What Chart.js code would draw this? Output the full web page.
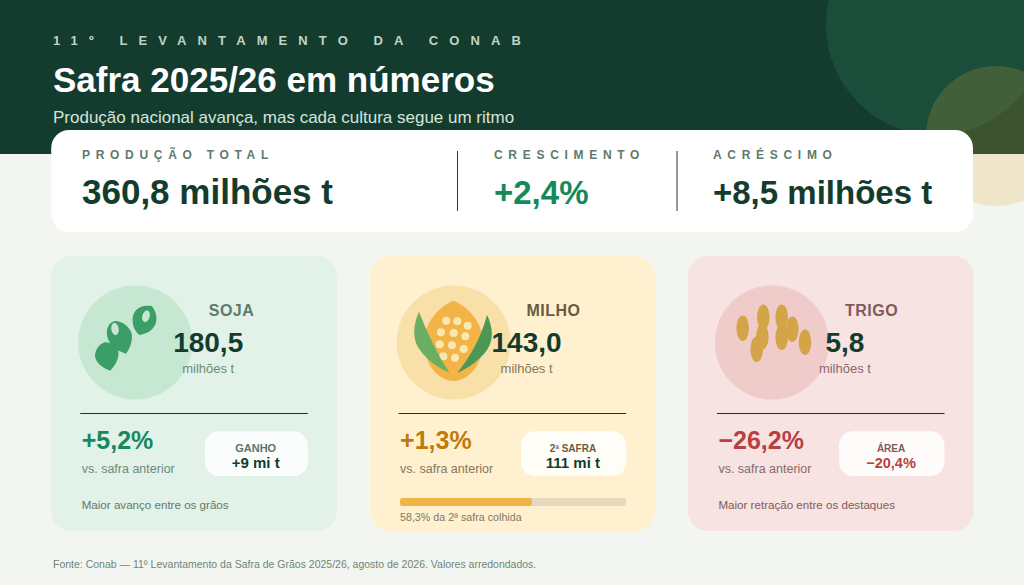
<!DOCTYPE html>
<html>
  <head>
    <meta charset="utf-8">
    <script src="https://cdn.jsdelivr.net/npm/chart.js@4/dist/chart.umd.js"></script>
    <style>
      html, body { margin: 0; padding: 0; background: #f3f5f0; }
      #page { position: relative; width: 1024px; height: 585px; overflow: hidden; font-family: "Liberation Sans", Arial, sans-serif; }
      #art { position: absolute; left: 0; top: 0; }
      #progress { position: absolute; left: 400px; top: 498px; }
    </style>
  </head>

  <body>
    <div id="page">
      <svg id="art" width="1024" height="585" viewBox="0 0 1024 585" xmlns="http://www.w3.org/2000/svg"></svg>
      <canvas id="progress" width="226" height="8" style="width:226px;height:8px"></canvas>
    </div>
    <script>
      // texts and values
      const eyebrow = '11º LEVANTAMENTO DA CONAB';
      const title = 'Safra 2025/26 em números';
      const subtitle = 'Produção nacional avança, mas cada cultura segue um ritmo';
      const source = 'Fonte: Conab — 11º Levantamento da Safra de Grãos 2025/26, agosto de 2026. Valores arredondados.';

      const statLabels = ['PRODUÇÃO TOTAL', 'CRESCIMENTO', 'ACRÉSCIMO'];
      const statValues = ['360,8 milhões t', '+2,4%', '+8,5 milhões t'];

      const crops = ['SOJA', 'MILHO', 'TRIGO'];
      const production = ['180,5', '143,0', '5,8'];
      const unit = 'milhões t';
      const changes = ['+5,2%', '+1,3%', '−26,2%'];
      const changeNote = 'vs. safra anterior';
      const pillLabels = ['GANHO', '2ª SAFRA', 'ÁREA'];
      const pillValues = ['+9 mi t', '111 mi t', '−20,4%'];
      const notes = ['Maior avanço entre os grãos', '', 'Maior retração entre os destaques'];

      const harvestedLabel = ['colhida'];
      const harvestedShare = [58.3];
      const harvestedTotal = [100];
      const harvestedCaption = '58,3% da 2ª safra colhida';

      const cardX = [51.2, 369.6, 687.9];
      const headX = [231.5, 553.5, 871.5];
      const pillX = [205, 521, 839];
      const themes = [
        { bg: '#e2f2e8', disc: '#c6e7d2', head: '#5e7a6c', soft: '#6f8a7b', note: '#5e7a6c', delta: '#15895a', pill: '#5c7567', pillValue: '#143c2e' },
        { bg: '#fff1d0', disc: '#f9dfa8', head: '#6b5b3e', soft: '#85765a', note: '#85765a', delta: '#bf7a0c', pill: '#6b5b3e', pillValue: '#143c2e' },
        { bg: '#f7e3e2', disc: '#efcbc9', head: '#7f5a5a', soft: '#8a6a6a', note: '#7f5a5a', delta: '#b83f44', pill: '#7f5a5a', pillValue: '#b83f44' },
      ];

      function text(x, y, str, size, color, opts) {
        opts = opts || {};
        return '<text x="' + x + '" y="' + y + '" font-size="' + size + '" fill="' + color + '"' +
          ' font-weight="' + (opts.bold ? 'bold' : 'normal') + '"' +
          ' text-anchor="' + (opts.anchor || 'start') + '"' +
          (opts.spacing ? ' letter-spacing="' + opts.spacing + '"' : '') + '>' + str + '</text>';
      }

      // icons are decoration, drawn once in page coordinates
      const soyIcon =
        '<g fill="#3a9e66">' +
        '<path d="M151.7 306C156 311 158 319 155 325C152 331 146 334 139.3 335C134 331 131.5 323 133 316C134.5 310 139 307 144 306C147 305.5 150 305.5 151.7 306Z"/>' +
        '<path d="M126 353.7C131 347 133 339 131.5 333C129 326 122 321 115 321C109 322 106 329 107 335C108 342 113 348 118 350.5Z"/>' +
        '<path d="M110 370.7C115 366 119 359 118.5 352C116 346 111 342 105 342.3C99 344 95 350 95 356C95.5 363 103 368 110 370.7Z"/>' +
        '</g>' +
        '<ellipse cx="146" cy="316.3" rx="3.7" ry="6" transform="rotate(15 146 316.3)" fill="#c6e7d2"/>' +
        '<ellipse cx="115" cy="329" rx="3.7" ry="6" transform="rotate(-10 115 329)" fill="#c6e7d2"/>';

      const kernels = [[446.3, 320.7], [457.3, 321.3], [467.7, 325.7], [441, 332.3], [453.7, 333], [465.3, 336.3],
        [439.7, 344.3], [452, 345.3], [463.7, 349], [443.3, 356.3], [455, 357.7]];
      const cornIcon =
        '<path d="M453.5 300.7C470 307 483 325 483 342C483 365 468 381 453.5 381C439 381 424 365 424 342C424 325 437 307 453.5 300.7Z" fill="#f2b447"/>' +
        kernels.map((k) => '<circle cx="' + k[0] + '" cy="' + k[1] + '" r="4" fill="#fbe7b2"/>').join('') +
        '<path d="M419 311.7C413 325 412 340 420 350C427 360 438 368 449.3 372.5C438 355 428 335 419 311.7Z" fill="#6bad63"/>' +
        '<path d="M487 315C493 327 494 340 487 350C480 360 468 368 457.3 373C470 357 481 338 487 315Z" fill="#4c9656"/>';

      const grains = [[742.7, 328.3], [763.3, 317.3], [762.3, 336.7], [756.7, 349.3], [781.7, 317.3], [781.7, 337.3], [792.3, 329.3], [805, 342.3]];
      const wheatIcon = grains.map((g) => '<ellipse cx="' + g[0] + '" cy="' + g[1] + '" rx="6.3" ry="12.7" fill="#d4a548"/>').join('');
      const icons = [soyIcon, cornIcon, wheatIcon];

      let svg = '';
      // header
      svg += '<rect width="1024" height="154" fill="#143c2e"/>';
      svg += '<circle cx="936" cy="25" r="110" fill="#1a4d3a"/>';
      svg += '<circle cx="996" cy="136" r="70" fill="#e0a830" fill-opacity="0.2"/>';
      svg += text(53, 45, eyebrow, 13, '#bfd4c6', { bold: true, spacing: 11.1 });
      svg += text(53, 92, title, 35, '#ffffff', { bold: true });
      svg += text(53, 123, subtitle, 17, '#d6e4da');

      // totals strip
      svg += '<rect x="51.2" y="130" width="921.8" height="102" rx="18" fill="#ffffff"/>';
      const statX = [82, 494, 713];
      const statSize = [35, 33, 33];
      const statColor = ['#143c2e', '#15895a', '#143c2e'];
      statLabels.forEach((label, i) => {
        svg += text(statX[i], 159, label, 12, '#5f7a6b', { bold: true, spacing: 5.7 });
        svg += text(statX[i], 203.5, statValues[i], statSize[i], statColor[i], { bold: true });
      });
      svg += '<line x1="457.5" y1="151" x2="457.5" y2="211" stroke="#333" stroke-width="1"/>';
      svg += '<line x1="677" y1="151" x2="677" y2="211" stroke="#333" stroke-width="1"/>';

      // crop cards
      crops.forEach((crop, i) => {
        const x = cardX[i];
        const t = themes[i];
        svg += '<rect x="' + x + '" y="256" width="285.6" height="275" rx="20" fill="' + t.bg + '"/>';
        svg += '<circle cx="' + (x + 84) + '" cy="342.5" r="57" fill="' + t.disc + '"/>';
        svg += icons[i];
        svg += text(headX[i], 316, crop, 16, t.head, { bold: true, anchor: 'middle', spacing: 0.5 });
        svg += text(x + 157, 352, production[i], 28, '#143c2e', { bold: true, anchor: 'middle' });
        svg += text(x + 157, 373, unit, 13, t.soft, { anchor: 'middle' });
        svg += '<line x1="' + (x + 29) + '" y1="413.5" x2="' + (x + 256.6) + '" y2="413.5" stroke="#2a2a2a" stroke-width="1"/>';
        svg += text(x + 30.5, 448.5, changes[i], 25, t.delta, { bold: true });
        svg += text(x + 30.5, 473, changeNote, 12.5, t.soft);
        const pillW = x + 256.6 - pillX[i];
        svg += '<rect x="' + pillX[i] + '" y="431.3" width="' + pillW + '" height="44.7" rx="14" fill="#ffffff" fill-opacity="0.85"/>';
        const mid = pillX[i] + pillW / 2 - 0.7;
        svg += text(mid, 452, pillLabels[i], i === 0 ? 11 : 10, t.pill, { bold: true, anchor: 'middle' });
        svg += text(mid, 468, pillValues[i], i === 2 ? 14.5 : 15, t.pillValue, { bold: true, anchor: 'middle' });
        if (notes[i]) svg += text(x + 30.5, 509, notes[i], 11.6, t.note);
      });
      svg += text(400, 521, harvestedCaption, 10.7, themes[1].soft);
      svg += text(53, 568, source, 10.5, '#6f8578');
      document.getElementById('art').innerHTML = svg;

      // harvest progress bar
      new Chart(document.getElementById('progress').getContext('2d'), {
        type: 'bar',
        data: {
          labels: harvestedLabel,
          datasets: [
            { data: harvestedShare, backgroundColor: '#f2b447', order: 1 },
            { data: harvestedTotal, backgroundColor: '#e5d9c0', order: 2 },
          ],
        },
        options: {
          indexAxis: 'y',
          responsive: false,
          animation: false,
          layout: { padding: 0 },
          datasets: {
            bar: { grouped: false, barPercentage: 1, categoryPercentage: 1, borderRadius: 4, borderSkipped: false },
          },
          scales: {
            x: { display: false, min: 0, max: 100 },
            y: { display: false },
          },
          plugins: { legend: { display: false }, tooltip: { enabled: false } },
        },
      });
    </script>
  </body>
</html>
